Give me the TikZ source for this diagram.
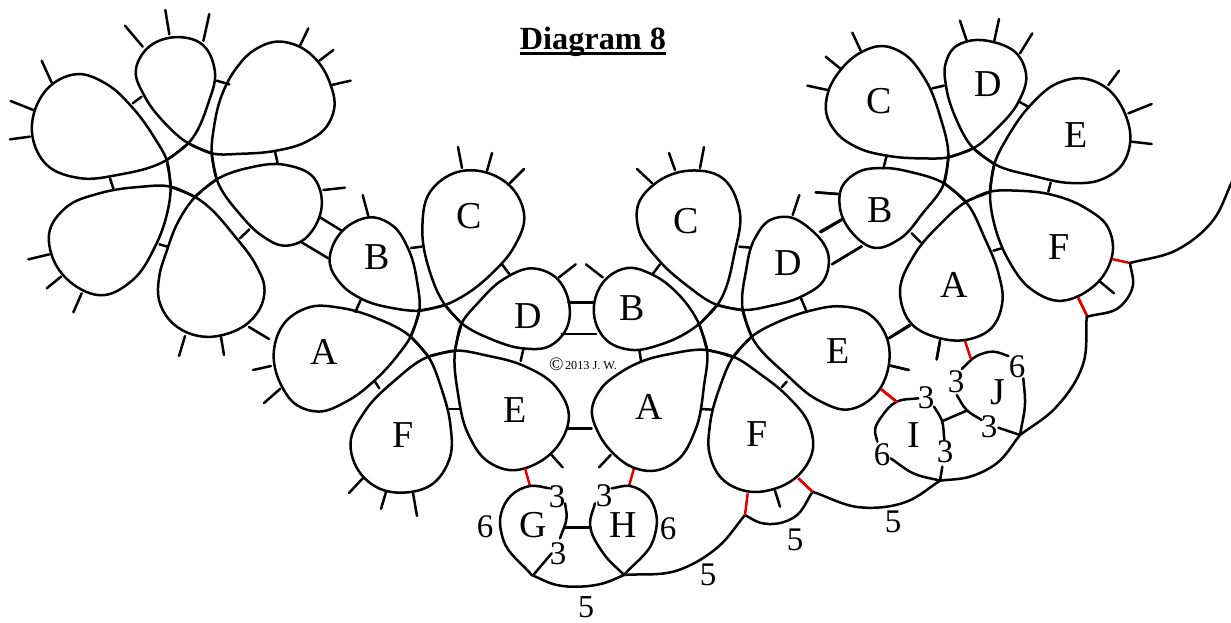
\documentclass[tikz,border=0pt]{standalone}
\usepackage{fontspec}
\setmainfont{Liberation Serif}
\makeatletter
\newcount\ptn
\newcount\ptk
\newcount\ptl
\newcount\ptm
\newcount\pts
\def\pV#1#2{\csname p#1@\number#2\endcsname}
\def\pet#1{\ptn=0 \pet@read#1\relax \pet@smooth\pet@smooth\pet@draw}
\def\pet@read{\@ifnextchar(\pet@rd\pet@end}
\def\pet@rd(#1,#2){\advance\ptn by 1
  \expandafter\def\csname px@\number\ptn\endcsname{#1}%
  \expandafter\def\csname py@\number\ptn\endcsname{#2}\pet@read}
\def\pet@end\relax{}
% one gentle pass that takes the tracing noise out of the inner knots
\def\pet@smooth{%
  \pts=\ptn \advance\pts by -2
  \ifnum\pts>2
    \ptk=3
    \loop
      \ptl=\ptk \advance\ptl by -1
      \ptm=\ptk \advance\ptm by 1
      \pgfmathsetmacro\tmpx{0.84*\pV x\ptk+0.08*\pV x\ptl+0.08*\pV x\ptm}%
      \pgfmathsetmacro\tmpy{0.84*\pV y\ptk+0.08*\pV y\ptl+0.08*\pV y\ptm}%
      \expandafter\let\csname pnx@\number\ptk\endcsname\tmpx
      \expandafter\let\csname pny@\number\ptk\endcsname\tmpy
      \advance\ptk by 1
    \ifnum\ptk>\pts\else\repeat
    \ptk=3
    \loop
      \expandafter\let\csname px@\number\ptk\expandafter\endcsname\csname pnx@\number\ptk\endcsname
      \expandafter\let\csname py@\number\ptk\expandafter\endcsname\csname pny@\number\ptk\endcsname
      \advance\ptk by 1
    \ifnum\ptk>\pts\else\repeat
  \fi}
\def\pet@draw{%
  \ptk=1
  \loop
    \ptl=\ptk \advance\ptl by -1
    \ptm=\ptk \advance\ptm by 1
    \ifnum\ptk=1
      \pgfmathsetmacro\vx{\pV x\ptm-\pV x\ptk}\pgfmathsetmacro\vy{\pV y\ptm-\pV y\ptk}%
    \else\ifnum\ptk=\ptn
      \pgfmathsetmacro\vx{\pV x\ptk-\pV x\ptl}\pgfmathsetmacro\vy{\pV y\ptk-\pV y\ptl}%
    \else
      \pgfmathsetmacro\ax{\pV x\ptk-\pV x\ptl}\pgfmathsetmacro\ay{\pV y\ptk-\pV y\ptl}%
      \pgfmathsetmacro\bx{\pV x\ptm-\pV x\ptk}\pgfmathsetmacro\by{\pV y\ptm-\pV y\ptk}%
      \pgfmathsetmacro\da{veclen(\ax,\ay)}\pgfmathsetmacro\db{veclen(\bx,\by)}%
      \pgfmathsetmacro\vx{\ax/\da*\db+\bx/\db*\da}\pgfmathsetmacro\vy{\ay/\da*\db+\by/\db*\da}%
    \fi\fi
    \pgfmathsetmacro\vl{veclen(\vx,\vy)}%
    \pgfmathsetmacro\tmpx{\vx/\vl}\pgfmathsetmacro\tmpy{\vy/\vl}%
    \expandafter\let\csname ptx@\number\ptk\endcsname\tmpx
    \expandafter\let\csname pty@\number\ptk\endcsname\tmpy
    \advance\ptk by 1
  \ifnum\ptk>\ptn\else\repeat
  \edef\pth{(\pV x{1},\pV y{1})}%
  \ptk=1
  \loop
    \ptm=\ptk \advance\ptm by 1
    \pgfmathsetmacro\dd{veclen(\pV x\ptm-\pV x\ptk,\pV y\ptm-\pV y\ptk)/3}%
    \pgfmathsetmacro\cax{\pV x\ptk+\pV{tx}\ptk*\dd}\pgfmathsetmacro\cay{\pV y\ptk+\pV{ty}\ptk*\dd}%
    \pgfmathsetmacro\cbx{\pV x\ptm-\pV{tx}\ptm*\dd}\pgfmathsetmacro\cby{\pV y\ptm-\pV{ty}\ptm*\dd}%
    \edef\pth{\pth .. controls (\cax,\cay) and (\cbx,\cby) .. (\pV x\ptm,\pV y\ptm)}%
    \advance\ptk by 1
  \ifnum\ptk<\ptn\repeat
  \edef\pthcmd{\noexpand\draw[ln] \pth;}\pthcmd
}
\makeatother
\newcommand\seg[2]{\draw[ln] #1 -- #2;}
\newcommand\rseg[2]{\draw[redln] #1 -- #2;}
\tikzset{
  ln/.style={line width=2.5pt,black,line cap=round,line join=round},
  redln/.style={line width=2.5pt,red!90!black,line cap=butt},
  zm/.style 2 args={shift={(#1pt,-#2pt)},x=0.33333pt,y=-0.33333pt},
  let/.style={inner sep=0pt,font=\fontsize{38}{38}\selectfont},
  num/.style={inner sep=0pt,font=\fontsize{33}{33}\selectfont},
}
\begin{document}
\begin{tikzpicture}[x=1pt,y=-1pt]
\useasboundingbox (0,0) rectangle (1231,622);
% ---- flower 1 (top left)
\begin{scope}[zm={0}{0}]
\pet{(512,560)(500,480)(470,420)(400,320)(320,245)(235,212)(155,245)(105,310)(88,410)(130,503)(240,543)(350,530)(500,480)(565,430)}
\pet{(635,460)(565,430)(490,370)(430,290)(397,210)(430,142)(530,102)(612,122)(655,210)(630,310)(565,430)(500,480)}
\pet{(650,538)(635,460)(640,380)(660,290)(700,210)(760,145)(830,118)(900,135)(958,182)(995,255)(1010,315)(985,385)(920,430)(830,455)(720,463)(635,460)(565,430)}
\pet{(585,590)(650,538)(740,500)(860,486)(952,528)(972,600)(952,680)(900,733)(850,743)(790,715)(720,650)(650,538)(635,460)}
\pet{(585,590)(512,560)(420,558)(300,575)(188,618)(140,690)(150,770)(200,850)(315,901)(400,850)(470,740)(505,640)(512,560)(500,480)}
\seg{(155,248)}{(125,182)}\seg{(100,330)}{(32,303)}\seg{(90,410)}{(30,418)}
\seg{(428,140)}{(375,77)}\seg{(508,103)}{(496,30)}\seg{(610,123)}{(628,42)}
\seg{(900,137)}{(925,85)}\seg{(958,182)}{(1000,150)}\seg{(995,255)}{(1052,242)}
\seg{(970,570)}{(1035,563)}
\seg{(148,763)}{(85,778)}\seg{(183,830)}{(140,865)}\seg{(245,880)}{(220,937)}
\seg{(398,310)}{(425,290)}\seg{(650,242)}{(688,253)}\seg{(825,455)}{(833,490)}
\seg{(330,535)}{(340,565)}\seg{(478,733)}{(503,740)}\seg{(720,715)}{(748,688)}
\seg{(960,652)}{(1025,692)}\seg{(905,727)}{(985,775)}\seg{(1105,648)}{(1088,585)}
\end{scope}
\pet{(217,179)(195,197)(175,225)(167,250)(158,277)(157,300)(168,321)(187,334)(207,338)(227,335)(250,324)(264,303)(266,287)(258,267)(240,240)(195,197)(171,187)}
\seg{(185,336)}{(179,356)}\seg{(221,337)}{(224,355)}
\seg{(249,327)}{(269,339)}\seg{(271,366)}{(253,370)}\seg{(280,389)}{(264,403)}
% ---- flower 2 (centre left)
\begin{scope}[zm={260}{160}]
\pet{(452,530)(478,452)(475,370)(450,265)(400,190)(345,165)(270,185)(215,250)(202,310)(235,372)(310,425)(400,447)(478,452)(555,435)}
\pet{(605,490)(555,435)(505,340)(480,200)(498,90)(590,25)(690,32)(772,90)(803,170)(770,260)(690,350)(620,405)(555,435)(478,452)}
\pet{(585,572)(605,490)(650,430)(730,350)(820,315)(892,345)(933,420)(928,510)(870,568)(790,570)(690,540)(605,490)(555,435)}
\pet{(605,490)(585,572)(590,700)(620,830)(680,912)(750,938)(830,917)(902,860)(938,760)(900,680)(790,610)(680,585)(585,572)(505,590)}
\pet{(585,572)(505,590)(400,660)(310,750)(257,850)(300,952)(360,992)(430,1003)(522,982)(578,900)(575,790)(545,680)(505,590)(452,530)}
\pet{(505,590)(452,530)(350,470)(240,440)(150,432)(68,480)(32,570)(58,680)(110,743)(170,763)(260,730)(350,660)(420,580)(452,530)(478,452)}
\seg{(453,264)}{(485,260)}\seg{(725,312)}{(748,342)}\seg{(790,568)}{(782,603)}
\seg{(568,747)}{(600,747)}\seg{(345,665)}{(358,685)}\seg{(302,420)}{(286,456)}
\seg{(897,352)}{(947,313)}\seg{(925,427)}{(998,427)}\seg{(905,522)}{(1008,522)}
\seg{(925,805)}{(995,805)}\seg{(1028,352)}{(978,313)}
\seg{(875,885)}{(908,922)}\seg{(1052,885)}{(1017,922)}
\rseg{(795,925)}{(810,978)}\rseg{(1122,925)}{(1107,978)}
\end{scope}
\seg{(462,168)}{(458,147)}\seg{(487,171)}{(492,153)}\seg{(510,183)}{(524,169)}
\seg{(652,183)}{(637,169)}\seg{(675,170)}{(669,153)}\seg{(700,168)}{(704,147)}
\seg{(363,478)}{(349,493)}\seg{(386,492)}{(381,509)}\seg{(413,493)}{(417,516)}
% ---- flower 3 (centre right)
\begin{scope}[zm={620}{170}]
\pet{(368,420)(292,405)(200,350)(110,270)(47,180)(47,100)(95,38)(210,-8)(312,8)(371,120)(350,240)(292,405)(238,463)}
\pet{(395,500)(368,420)(375,300)(400,200)(450,143)(495,133)(572,168)(638,260)(622,332)(545,385)(450,410)(368,420)(292,405)}
\pet{(340,560)(395,500)(480,450)(570,420)(660,403)(752,423)(808,500)(813,590)(772,683)(680,731)(600,700)(500,620)(395,500)(368,420)}
\pet{(260,540)(340,560)(420,610)(500,670)(578,770)(588,830)(542,922)(460,963)(380,971)(298,932)(262,850)(265,770)(300,640)(340,560)(395,500)}
\seg{(358,230)}{(392,233)}\seg{(120,283)}{(98,312)}\seg{(58,540)}{(63,572)}
\seg{(243,717)}{(278,719)}\seg{(485,652)}{(500,635)}\seg{(560,425)}{(543,385)}
\seg{(518,135)}{(538,75)}\seg{(600,185)}{(665,148)}\seg{(636,283)}{(725,229)}
\seg{(653,72)}{(588,67)}\seg{(808,503)}{(868,465)}\seg{(812,587)}{(865,600)}
\seg{(960,510)}{(950,568)}
\rseg{(783,657)}{(830,695)}
\end{scope}
\pet{(733,357)(707,350)(670,353)(640,361)(620,372)(600,387)(589,410)(597,433)(613,455)(633,469)(652,473)(678,464)(697,433)(705,383)(707,350)(699,324)}
\pet{(707,350)(699,324)(680,293)(653,273)(627,265)(606,276)(594,297)(592,317)(606,344)(630,352)(660,347)(699,324)(717,305)}
% ---- flower 4 (top right)
\begin{scope}[zm={800}{0}]
\pet{(432,550)(445,472)(425,350)(375,225)(310,153)(250,131)(180,153)(120,205)(78,280)(73,340)(105,402)(170,447)(260,470)(370,477)(445,472)(520,445)}
\pet{(583,492)(520,445)(465,360)(435,260)(431,190)(460,138)(500,120)(580,120)(662,160)(687,225)(660,310)(590,390)(520,445)(445,472)}
\pet{(570,575)(583,492)(620,410)(690,310)(770,243)(845,228)(922,255)(982,340)(997,430)(972,500)(900,547)(820,554)(700,530)(583,492)(520,445)}
\pet{(497,605)(570,575)(650,570)(750,578)(860,620)(932,680)(944,740)(927,810)(870,877)(770,914)(690,875)(620,780)(580,680)(570,575)(583,492)}
\pet{(497,605)(432,550)(340,515)(250,500)(170,510)(118,560)(113,620)(150,702)(225,757)(300,725)(370,640)(432,550)(445,472)}
\seg{(397,265)}{(432,257)}\seg{(657,305)}{(688,322)}\seg{(752,548)}{(745,575)}
\seg{(580,752)}{(605,745)}\seg{(335,700)}{(362,727)}\seg{(260,467)}{(250,505)}
\seg{(182,152)}{(157,98)}\seg{(120,205)}{(77,170)}\seg{(83,270)}{(22,257)}
\seg{(500,122)}{(480,62)}\seg{(583,122)}{(597,57)}\seg{(660,160)}{(697,100)}
\seg{(925,255)}{(957,212)}\seg{(985,340)}{(1055,312)}\seg{(995,425)}{(1055,432)}
\seg{(115,582)}{(47,577)}\seg{(62,697)}{(125,660)}\seg{(100,790)}{(185,739)}
\seg{(900,845)}{(942,880)}
\rseg{(935,777)}{(990,789)}\rseg{(835,893)}{(862,950)}
\pet{(862,950)(960,920)(998,860)(990,789)}
\pet{(990,789)(1130,750)(1240,660)(1296,545)}
\end{scope}
\pet{(990,192)(966,202)(940,223)(913,253)(895,293)(910,328)(937,339)(967,342)(994,331)(1005,300)(1000,275)(985,237)(966,202)(944,183)}
% ---- lower right rings and chains
\begin{scope}[zm={780}{270}]
\pet{(920,140)(910,280)(825,415)(720,495)}
\pet{(720,495)(650,580)(570,620)(480,632)}
\pet{(480,632)(380,695)(240,712)(97,665)}
\pet{(545,297)(590,258)(640,245)(685,258)}
\pet{(730,325)(735,400)(720,495)}
\pet{(530,375)(560,420)(605,450)}
\pet{(655,473)(720,495)}
\pet{(415,385)(350,395)(300,440)(285,480)(292,515)}
\pet{(332,565)(400,610)(480,632)}
\pet{(480,632)(487,590)}
\pet{(493,510)(485,450)(462,410)}
\seg{(490,452)}{(560,422)}
\seg{(480,215)}{(470,268)}\seg{(332,287)}{(387,300)}\seg{(327,205)}{(390,167)}
\rseg{(895,85)}{(920,135)}\rseg{(555,212)}{(573,268)}\rseg{(303,358)}{(352,397)}\rseg{(55,625)}{(97,665)}
\end{scope}
% ---- bottom rings and chains
\begin{scope}[zm={470}{400}]
\pet{(240,265)(180,258)(120,280)(85,340)(100,420)(185,525)}
\pet{(190,525)(245,460)}
\pet{(270,415)(290,350)(285,310)}
\seg{(285,382)}{(362,382)}
\pet{(425,265)(480,258)(540,285)(565,340)(550,420)(462,525)}
\pet{(462,525)(400,460)(360,370)(375,310)}
\pet{(185,525)(260,555)(330,563)(400,550)(462,525)}
\pet{(462,525)(620,512)(745,440)(825,345)}
\pet{(825,345)(870,368)(925,375)(975,350)(1028,275)}
\seg{(915,272)}{(930,320)}
\rseg{(833,280)}{(825,345)}\rseg{(985,235)}{(1028,275)}
\end{scope}
% ---- letters
\node[let] (b1) at (377,257) {B};
\node[let] (c1) at (469,216) {C};
\node[let] (d1) at (528,316) {D};
\node[let] (a1) at (324,352) {A};
\node[let] (e1) at (515,410) {E};
\node[let] (f1) at (403,435) {F};
\node[let] (b2) at (632,308) {B};
\node[let] (a2) at (649,407) {A};
\node[let] (c2) at (686,221) {C};
\node[let] (d2) at (788,263) {D};
\node[let] (e2) at (838,351) {E};
\node[let] (f2) at (757,434) {F};
\node[let] (a3) at (954,285) {A};
\node[let] (b3) at (880,210) {B};
\node[let] (c3) at (879,101) {C};
\node[let] (d3) at (988,84) {D};
\node[let] (e3) at (1076,135) {E};
\node[let] (f3) at (1059,247) {F};
\node[let] (i) at (914,435) {I};
\node[let] (j) at (998,392) {J};
\node[let] (g) at (533,525) {G};
\node[let] (h) at (623,525) {H};
% ---- numbers
\node[num] (n1) at (557,497) {3};
\node[num] (n2) at (604,496) {3};
\node[num] (n3) at (485,527) {6};
\node[num] (n4) at (668,529) {6};
\node[num] (n5) at (558,554) {3};
\node[inner sep=0pt,font=\fontsize{32}{32}\selectfont] (n6) at (586,607.5) {5};
\node[num] (n7) at (708,575) {5};
\node[num] (n8) at (795,540) {5};
\node[num] (n9) at (893,522) {5};
\node[num] (n10) at (926,398) {3};
\node[num] (n11) at (956,382) {3};
\node[num] (n12) at (1017,367) {6};
\node[num] (n13) at (989,427) {3};
\node[num] (n14) at (945,452) {3};
\node[num] (n15) at (882,455) {6};
% ---- title and notice
\node[inner sep=0pt,anchor=base] (title) at (593,49) {\fontsize{32.3}{32}\selectfont\bfseries Diagram 8};
\draw[line width=3.4pt] (title.west |- 0,53.5) -- (title.east |- 0,53.5);
\node[inner sep=0pt,anchor=base west] (cr) at (549,369) {\raisebox{-1.5pt}{\fontsize{19}{19}\selectfont ©}\kern1.5pt\fontsize{12.2}{12}\selectfont 2013 J. W.};
\end{tikzpicture}
\end{document}
